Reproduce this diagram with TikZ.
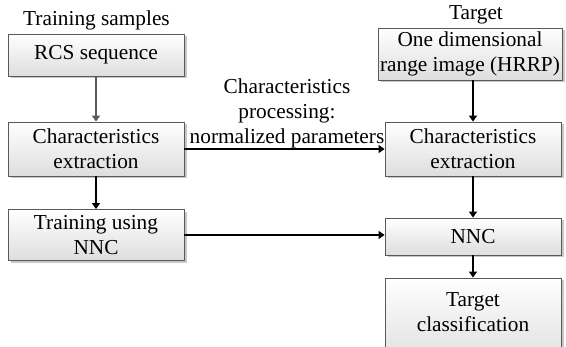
\documentclass[tikz,border=0pt]{standalone}
\usepackage{fontspec}
\setmainfont{Liberation Serif}
\usetikzlibrary{shadows,arrows.meta}
\begin{document}
\begin{tikzpicture}[x=1pt,y=-1pt,
  box/.style={draw=black!65, line width=0.8pt, top color=white, bottom color=black!13,
    drop shadow={shadow xshift=2.5pt, shadow yshift=-2.5pt, fill=black!22, opacity=1},
    align=center, inner sep=0pt, minimum width=176pt, font=\fontsize{21.3}{25}\selectfont},
  lbl/.style={align=center, inner sep=0pt, font=\fontsize{21.3}{25}\selectfont},
  arr/.style={line width=1.2pt, -{Triangle[width=8pt,length=6pt]}}]
\clip (0,0) rectangle (566,347);
\fill[white] (0,0) rectangle (566,347);
\node[box, minimum height=42pt] (rcs) at (96,55) {RCS sequence};
\node[box, minimum height=54pt] (charL) at (96,149) {Characteristics\\extraction};
\node[box, minimum height=51pt] (train) at (96,235) {Training using\\NNC};
\node[box, minimum width=184pt, minimum height=52pt] (hrrp) at (470,54) {One dimensional\\range image (HRRP)};
\node[box, minimum height=54pt] (charR) at (473,149) {Characteristics\\extraction};
\node[box, minimum height=37pt] (nnc) at (473,236.5) {NNC};
\node[box, minimum height=90pt] (tc) at (473,323) {};
\node[lbl] (tct) at (473,312) {Target\\classification};
\node[lbl] (ts) at (96.5,20) {Training samples};
\node[lbl] (tg) at (476,15) {Target};
\node[lbl] (cp) at (287,113) {Characteristics\\processing:\\normalized parameters};
\draw[arr, draw=black!65, fill=black!65] (rcs.south) -- (charL.north);
\draw[arr] (charL.south) -- (train.north);
\draw[arr] (hrrp.south -| charR.north) -- (charR.north);
\draw[arr] (charR.south) -- (nnc.north);
\draw[arr] (nnc.south) -- (tc.north);
\draw[arr] (charL.east) -- (charR.west);
\draw[arr] (train.east) -- (train.east -| nnc.west);
\end{tikzpicture}
\end{document}
